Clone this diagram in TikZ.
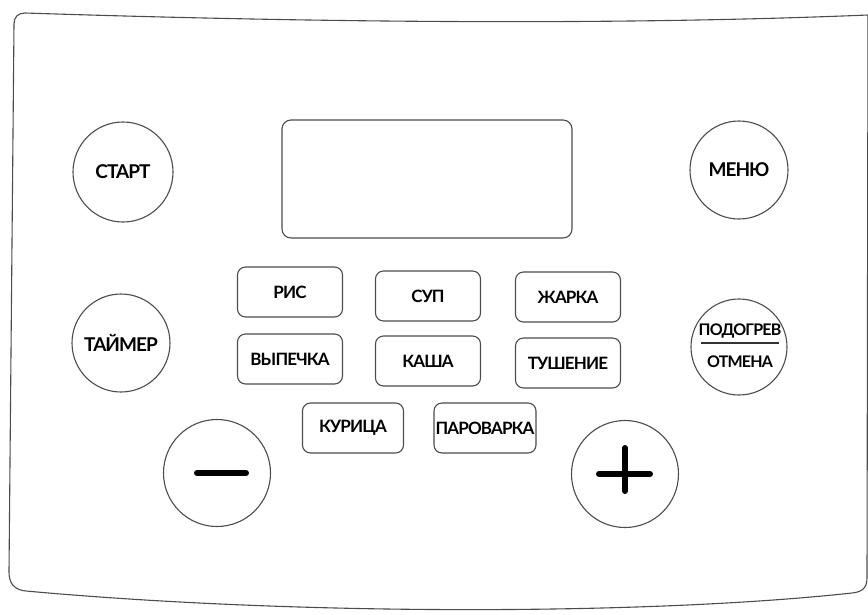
\documentclass[tikz,border=0pt]{standalone}
\usepackage{fontspec}
\setmainfont{Lato}[LetterSpace=-5]
\usepackage{tikz}

\begin{document}
\begin{tikzpicture}[x=1pt, y=-1pt, line width=1.1pt, draw=black!70,
    circbtn/.style={circle, draw=black!70, minimum size=100pt, inner sep=0pt,
      font=\fontsize{19}{21}\selectfont\bfseries},
    rectbtn/.style={rectangle, rounded corners=8pt, draw=black!70, minimum width=105pt,
      minimum height=50pt, inner sep=0pt, font=\fontsize{17}{19}\selectfont\bfseries},
    bigbtn/.style={circle, draw=black!70, minimum size=107pt, inner sep=0pt},
    bar/.style={line width=6pt, line cap=round, draw=black}]
    \useasboundingbox (0,0) rectangle (868,614);
    % panel outline
    \draw (25,13) .. controls (300,22) and (600,26) .. (868,15)
      -- (867,578) .. controls (867,588) and (862,592) .. (852,593)
      .. controls (650,615) and (300,616) .. (26,591)
      .. controls (14,590) and (9,583) .. (9,572)
      -- (14,24) .. controls (14,17) and (18,13) .. cycle;
    % display
    \node[rectangle, rounded corners=9pt, draw=black!70, minimum width=290pt,
      minimum height=118pt] (screen) at (427,179) {};
    % round buttons
    \node[circbtn] (start) at (123,172) {СТАРТ};
    \node[circbtn, minimum size=98pt] (timer) at (121,343) {ТАЙМЕР};
    \node[circbtn, minimum size=98pt] (menu) at (739,170) {МЕНЮ};
    \node[circbtn, minimum size=96pt] (warm) at (739,347) {};
    \node[font=\fontsize{16}{18}\selectfont\bfseries] (warmtop) at (740,331) {ПОДОГРЕВ};
    \node[font=\fontsize{16}{18}\selectfont\bfseries] (warmbot) at (740,362) {ОТМЕНА};
    \path (warmtop.south west) ++(6,1) coordinate (lineL)
      (warmtop.south east) ++(-6,1) coordinate (lineR);
    \draw[line width=1.3pt, draw=black!80] (lineL) -- (lineR);
    % programme buttons
    \node[rectbtn] (rice) at (290,292) {РИС};
    \node[rectbtn] (soup) at (428,296) {СУП};
    \node[rectbtn] (fry) at (568,297) {ЖАРКА};
    \node[rectbtn] (bake) at (290,359) {ВЫПЕЧКА};
    \node[rectbtn] (porridge) at (428,361) {КАША};
    \node[rectbtn] (stew) at (568,363) {ТУШЕНИЕ};
    \node[rectbtn, minimum width=101pt] (chicken) at (353,428) {КУРИЦА};
    \node[rectbtn, minimum width=102pt] (steam) at (485,428) {ПАРОВАРКА};
    % minus and plus
    \node[bigbtn] (minus) at (217,473) {};
    \node[bigbtn] (plus) at (625,474) {};
    \draw[bar] ([xshift=-20pt]minus.center) -- ([xshift=29pt]minus.center);
    \draw[bar] ([xshift=-26pt]plus.center) -- ([xshift=25pt]plus.center);
    \draw[bar] ([yshift=-17pt]plus.center) -- ([yshift=26pt]plus.center);
\end{tikzpicture}
\end{document}
